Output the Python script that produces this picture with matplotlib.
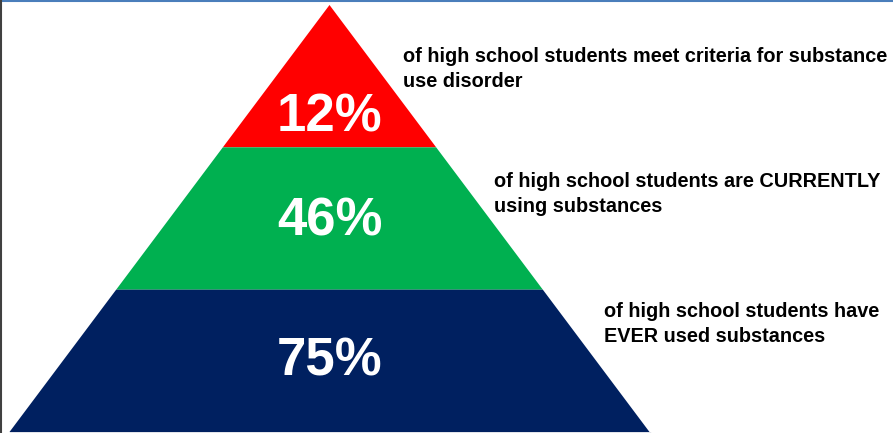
import matplotlib
matplotlib.use('Agg')
import matplotlib.pyplot as plt
from matplotlib.patches import Polygon

# ==========================================
# 資料
# ==========================================
tiers   = ['12%', '46%', '75%']            # top -> bottom
colors  = ['#ff0000', '#00b050', '#002060']
labels  = [
    'of high school students meet criteria for substance\nuse disorder',
    'of high school students are CURRENTLY\nusing substances',
    'of high school students have\nEVER used substances',
]

# ==========================================
# 版面 (像素座標)
# ==========================================
W, H = 893, 433
APEX_X, APEX_Y = 329.5, 5
BASE_Y, HALF_W = 432, 320
pct_y    = [117, 222, 362]
label_xy = [(403, 47), (494, 172), (604, 302)]

plt.rcParams['font.family'] = ['Liberation Sans', 'DejaVu Sans']

fig = plt.figure(figsize=(W / 100, H / 100), dpi=100)
ax = fig.add_axes([0, 0, 1, 1])
ax.set_xlim(0, W)
ax.set_ylim(H, 0)
ax.axis('off')

n = len(tiers)
h = (BASE_Y - APEX_Y) / n


def half(y):
    return HALF_W * (y - APEX_Y) / (BASE_Y - APEX_Y)


for i, (pct, c) in enumerate(zip(tiers, colors)):
    y0, y1 = APEX_Y + i * h, APEX_Y + (i + 1) * h
    pts = [(APEX_X - half(y0), y0), (APEX_X + half(y0), y0),
           (APEX_X + half(y1), y1), (APEX_X - half(y1), y1)]
    ax.add_patch(Polygon(pts, closed=True, facecolor=c, edgecolor='none'))
    ax.text(APEX_X, pct_y[i], pct, color='white', fontsize=38, fontweight='bold',
            ha='center', va='center')

for (lx, ly), txt in zip(label_xy, labels):
    ax.text(lx, ly, txt, fontsize=14.3, fontweight='bold', color='black',
            ha='left', va='top', linespacing=1.38)

# 邊框
ax.plot([0, W], [0.6, 0.6], color='#4a7ebb', lw=1.5)
ax.plot([0.6, 0.6], [0, H], color='#404040', lw=1.5)
ax.plot([APEX_X - HALF_W, APEX_X + HALF_W], [432.5, 432.5], color='#6b7894', lw=1)

fig.savefig('out.png', dpi=100)
